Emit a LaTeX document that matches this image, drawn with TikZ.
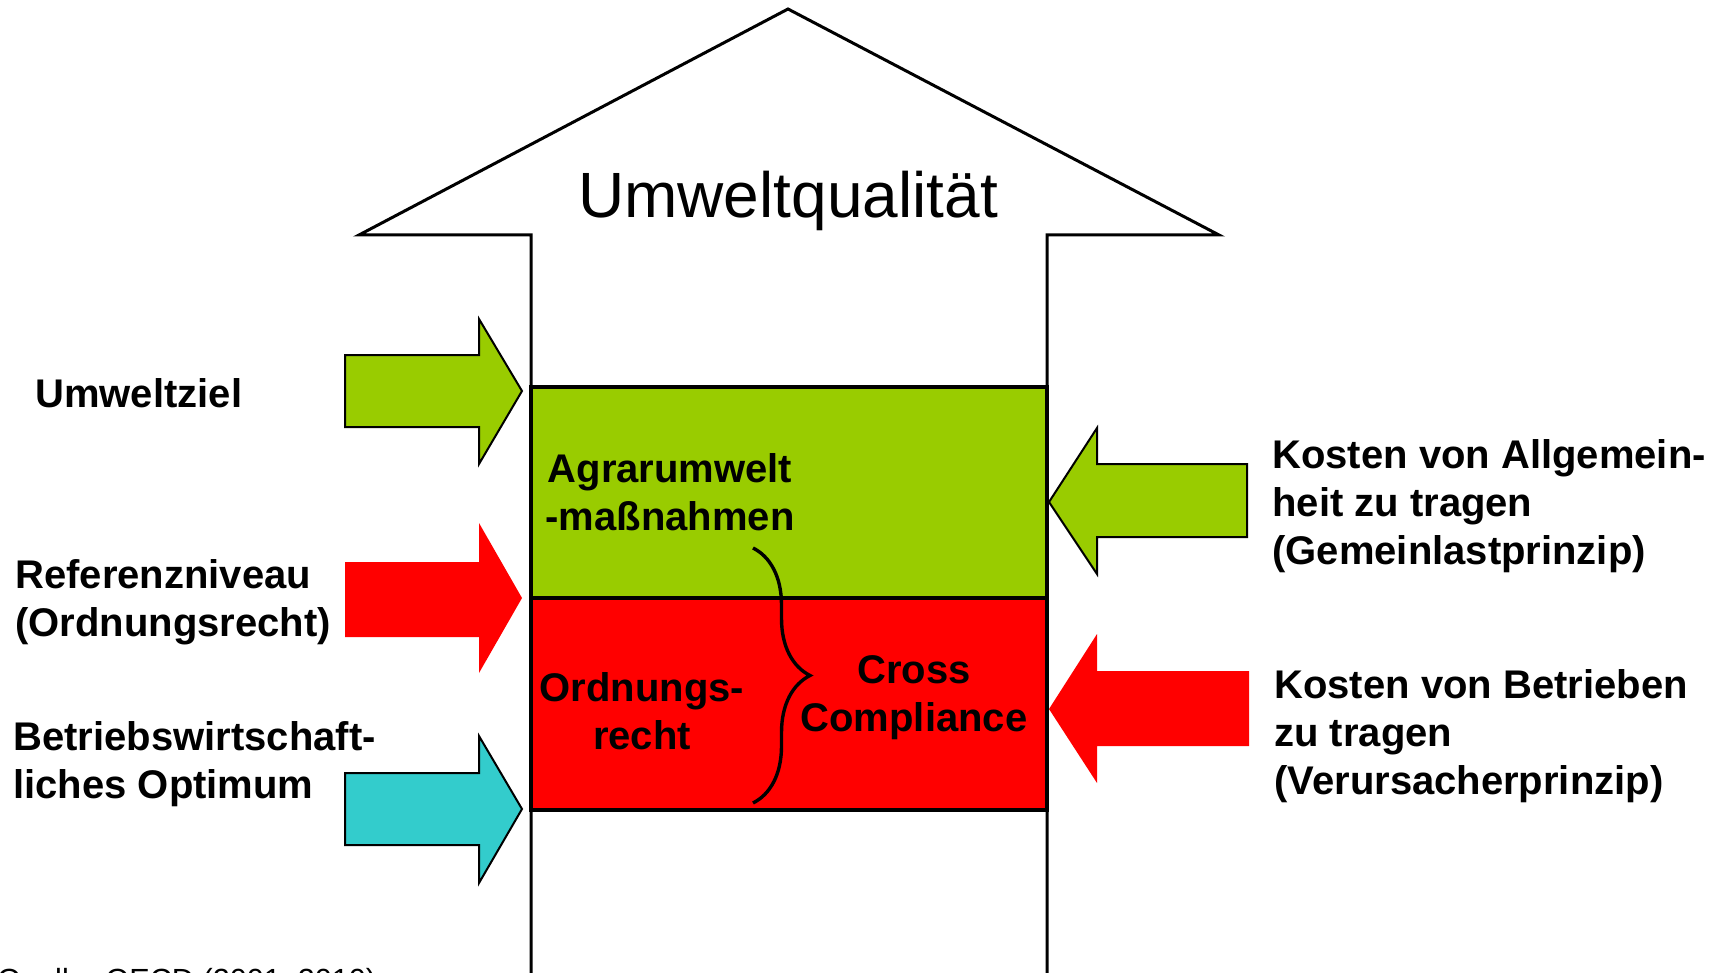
\documentclass[tikz,border=0pt]{standalone}
\usepackage{fontspec}
\setmainfont{Liberation Sans}
\usepackage{xcolor}
\usetikzlibrary{positioning,decorations.pathreplacing}
\definecolor{gruen}{HTML}{99CC00}
\definecolor{rot}{HTML}{FF0000}
\definecolor{tuerkis}{HTML}{33CCCC}
\begin{document}
\begin{tikzpicture}[x=0.5pt,y=-0.5pt,line join=miter,lbl/.style={inner sep=0,align=left,anchor=west,font=\fontsize{20}{24}\selectfont\bfseries},inlbl/.style={lbl,anchor=center,align=center},haus/.style={draw,line width=1.5pt},feld/.style={draw,line width=1.8pt},pf/.style={draw,line width=1pt}]
\clip (0,0) rectangle (1717,973);
\fill[white] (0,0) rectangle (1717,973);
% grosser Pfeil
\draw[haus] (531,1000)--(531,235)--(359,235)--(788,9)--(1219,235)--(1047,235)--(1047,1000);
\node[font=\fontsize{32}{38}\selectfont] (uq) at (788,201) {Umweltqualit\"at};
% Felder
\draw[feld,fill=gruen] (531,387) rectangle (1047,598);
\draw[feld,fill=rot] (531,598) rectangle (1047,810);
\node[inlbl] (agrar) at (670,492) {Agrarumwelt\\-maßnahmen};
\node[inlbl] (ordn) at (642,711) {Ordnungs-\\recht};
\node[inlbl] (cc) at (914,698) {Cross\\Compliance};
\coordinate (kloben) at (753,548);
\coordinate (klunten) at (753,803);
\draw[line width=1.7pt,decorate,decoration={brace,amplitude=28.5pt}] (kloben)--(klunten);
% Pfeile links
\draw[pf,fill=gruen] (345,355)--(479,355)--(479,319)--(522,391)--(479,464)--(479,427)--(345,427)--cycle;
\fill[rot] (345,562)--(479,562)--(479,523)--(522,598)--(479,673)--(479,637)--(345,637)--cycle;
\draw[pf,fill=tuerkis] (345,773)--(479,773)--(479,736)--(522,809)--(479,883)--(479,845)--(345,845)--cycle;
\node[lbl] (ziel) at (35,393) {Umweltziel};
\node[lbl] (ref) at (15,602) {Referenzniveau\\(Ordnungsrecht)};
\node[lbl] (opt) at (13,764) {Betriebswirtschaft-\\liches Optimum};
% Pfeile rechts
\draw[pf,fill=gruen] (1247,464)--(1097,464)--(1097,428)--(1049,502)--(1097,574)--(1097,537)--(1247,537)--cycle;
\fill[rot] (1249,671)--(1097,671)--(1097,634)--(1049,709)--(1097,783)--(1097,746)--(1249,746)--cycle;
\node[lbl] (allg) at (1272,506) {Kosten von Allgemein-\\heit zu tragen\\(Gemeinlastprinzip)};
\node[lbl] (betr) at (1274,736) {Kosten von Betrieben\\zu tragen\\(Verursacherprinzip)};
\node[inner sep=0,anchor=base west,font=\fontsize{15.3}{18}\selectfont] (quelle) at (-3,990) {Quelle: OECD (2001, 2010)};
\end{tikzpicture}
\end{document}
